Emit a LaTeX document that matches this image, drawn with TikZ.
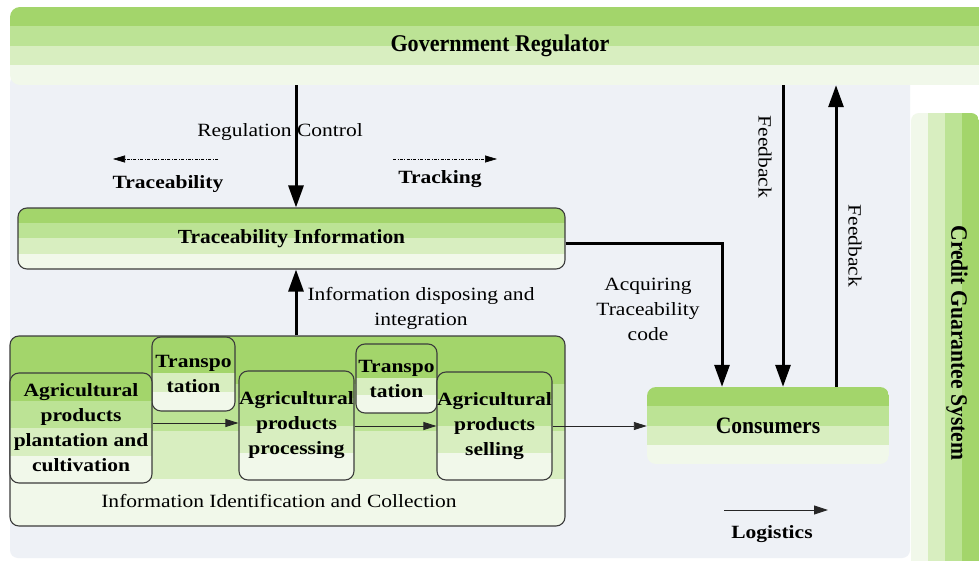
\documentclass[tikz,border=0pt]{standalone}
\usepackage{fontspec}
\setmainfont{Liberation Serif}[FakeStretch=1.15]
\newfontfamily\tallfont{Liberation Serif}[FakeStretch=0.92]
\newfontfamily\midfont{Liberation Serif}[FakeStretch=1.07]
\usetikzlibrary{arrows.meta,calc}
\definecolor{gA}{HTML}{A3D56B}
\definecolor{gB}{HTML}{BCE395}
\definecolor{gC}{HTML}{D8EEC0}
\definecolor{gD}{HTML}{F1F8EA}
\definecolor{panel}{HTML}{EEF1F6}
\definecolor{edge}{HTML}{3C3C3C}
\tikzset{
  hstripes/.style n args={3}{path picture={
    \fill[gA, sharp corners] (path picture bounding box.north west) rectangle ($(path picture bounding box.north east)!#1!(path picture bounding box.south east)$);
    \fill[gB, sharp corners] ($(path picture bounding box.north west)!#1!(path picture bounding box.south west)$) rectangle ($(path picture bounding box.north east)!#2!(path picture bounding box.south east)$);
    \fill[gC, sharp corners] ($(path picture bounding box.north west)!#2!(path picture bounding box.south west)$) rectangle ($(path picture bounding box.north east)!#3!(path picture bounding box.south east)$);
    \fill[gD, sharp corners] ($(path picture bounding box.north west)!#3!(path picture bounding box.south west)$) rectangle (path picture bounding box.south east);
  }},
  quarters/.style={hstripes={0.25}{0.5}{0.75}},
  vstripes/.style={path picture={
    \fill[gD, sharp corners] (path picture bounding box.south west) rectangle ($(path picture bounding box.north west)!0.25!(path picture bounding box.north east)$);
    \fill[gC, sharp corners] ($(path picture bounding box.south west)!0.25!(path picture bounding box.south east)$) rectangle ($(path picture bounding box.north west)!0.5!(path picture bounding box.north east)$);
    \fill[gB, sharp corners] ($(path picture bounding box.south west)!0.5!(path picture bounding box.south east)$) rectangle ($(path picture bounding box.north west)!0.75!(path picture bounding box.north east)$);
    \fill[gA, sharp corners] ($(path picture bounding box.south west)!0.75!(path picture bounding box.south east)$) rectangle (path picture bounding box.north east);
  }},
  sbox/.style={rectangle, rounded corners=9pt, draw=edge, line width=1.1pt, inner sep=0pt, align=center},
  bt/.style={font=\fontsize{18.7}{25}\selectfont\bfseries},
  rt/.style={font=\fontsize{18.7}{25}\selectfont},
  tallbt/.style={font=\tallfont\fontsize{23.5}{28}\selectfont\bfseries},
  bigarrow/.style={line width=3pt, -{Triangle[length=22pt,width=15pt]}},
  flow/.style={draw=black!85, line width=0.9pt, -{Triangle[length=13pt,width=8pt]}},
  dd/.style={line width=0.6pt, dash pattern=on 3pt off 1.5pt on 0.8pt off 1.5pt, -{Triangle[length=12pt,width=7pt]}},
}
\begin{document}
\begin{tikzpicture}[x=1pt,y=-1pt]
\useasboundingbox (0,0) rectangle (979,561);
\clip (0,0) rectangle (979,561);
\fill[white] (0,0) rectangle (979,561);

% background panel
\node[fill=panel, rounded corners=8pt, inner sep=0pt, minimum width=900pt, minimum height=483pt] (panel) at (460,316.5) {};

% government banner
\node[quarters, rounded corners=10pt, inner sep=0pt, minimum width=980pt, minimum height=78pt, font=\tallfont\fontsize{24}{28}\selectfont\bfseries] (gov) at (500,46) {Government Regulator};

% credit guarantee system
\node[vstripes, rounded corners=8pt, inner sep=0pt, minimum width=68pt, minimum height=487pt] (credit) at (945,356.5) {};
\node[rotate=-90, tallbt, inner sep=0pt] (credittext) at (957,343) {Credit Guarantee System};

% lower big box
\node[sbox, quarters, minimum width=555pt, minimum height=190pt] (collect) at (287.5,431) {};
\node[rt, anchor=base, inner sep=0pt] (collecttext) at (279,507) {Information Identification and Collection};

% transport boxes
\node[sbox, hstripes={0.49}{0.49}{0.74}, minimum width=83pt, minimum height=74pt, bt] (tr1) at (193.5,374) {Transpo\\tation};
\node[sbox, hstripes={0.49}{0.49}{0.74}, minimum width=81pt, minimum height=69pt, bt] (tr2) at (396.5,378.5) {Transpo\\tation};

% stage boxes
\node[sbox, quarters, minimum width=142pt, minimum height=110pt, bt] (plant) at (81,428) {Agricultural\\products\\plantation and\\cultivation};
\node[sbox, quarters, minimum width=115pt, minimum height=109pt, bt] (proc) at (296.5,425.5) {Agricultural\\products\\processing};
\node[sbox, quarters, minimum width=115pt, minimum height=108pt, bt] (sell) at (494.5,426) {Agricultural\\products\\selling};

% traceability information
\node[sbox, quarters, minimum width=547pt, minimum height=61pt, font=\midfont\fontsize{20}{24}\selectfont\bfseries] (trace) at (291.5,238.5) {Traceability Information};

% consumers
\node[quarters, rounded corners=9pt, inner sep=0pt, minimum width=242pt, minimum height=77pt, tallbt] (cons) at (768,425.5) {Consumers};

% text labels
\node[rt, anchor=base, inner sep=0pt] (reg) at (280,137) {Regulation Control};
\node[bt, anchor=base, inner sep=0pt] (tracel) at (168,189) {Traceability};
\node[bt, anchor=base, inner sep=0pt] (trackl) at (440,184) {Tracking};
\node[rt, align=center, inner sep=0pt] (dispose) at (421,308) {Information disposing and\\integration};
\node[rt, align=center, inner sep=0pt] (acqtext) at (648,309) {Acquiring\\Traceability\\code};
\node[rt, rotate=-90, inner sep=0pt] (fbtext1) at (765,157) {Feedback};
\node[rt, rotate=-90, inner sep=0pt] (fbtext2) at (855,246) {Feedback};
\node[bt, anchor=base, inner sep=0pt] (logtext) at (772,538) {Logistics};

% helper coordinates
\coordinate (cx) at (296,0);
\coordinate (fb1) at (783,0);
\coordinate (fb2) at (836,0);
\coordinate (acq) at (722,244);
\coordinate (r1) at (0,423);
\coordinate (r2) at (0,426);
\coordinate (tb1) at (218,159);
\coordinate (tb2) at (113,159);
\coordinate (tk1) at (393,159);
\coordinate (tk2) at (497,159);
\coordinate (lg1) at (724,510);
\coordinate (lg2) at (828,510);

% connectors
\draw[bigarrow] (gov.south -| cx) -- (trace.north -| cx);
\draw[bigarrow] (collect.north -| cx) -- (trace.south -| cx);
\draw[bigarrow, line join=miter] (trace.east |- acq) -- (acq) -- (cons.north -| acq);
\draw[bigarrow] (gov.south -| fb1) -- (cons.north -| fb1);
\draw[bigarrow] (cons.north -| fb2) -- (gov.south -| fb2);
\draw[flow] (plant.east |- r1) -- (proc.west |- r1);
\draw[flow] (proc.east |- r2) -- (sell.west |- r2);
\draw[flow] (sell.east |- r2) -- (cons.west |- r2);
\draw[dd] (tb1) -- (tb2);
\draw[dd] (tk1) -- (tk2);
\draw[flow, -{Triangle[length=14pt,width=9pt]}] (lg1) -- (lg2);
\end{tikzpicture}
\end{document}
